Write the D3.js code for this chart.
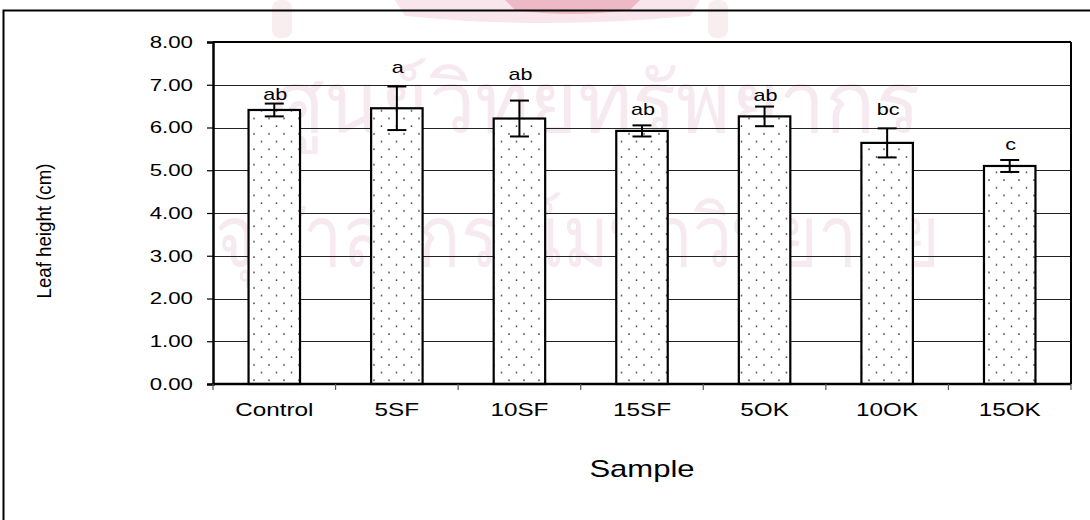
<!DOCTYPE html>
<html><head><meta charset="utf-8">
<script src="https://cdn.jsdelivr.net/npm/d3@7"></script>
<style>
body{margin:0;background:#fff}
svg text{font-family:"Liberation Sans",Arial,Helvetica,sans-serif;fill:#000}
</style></head>
<body><svg id="chart" width="1090" height="520"></svg>
<script>
const categories = ["Control","5SF","10SF","15SF","5OK","10OK","15OK"];
const means      = [6.41, 6.45, 6.21, 5.92, 6.26, 5.64, 5.10];
const errors     = [0.15, 0.51, 0.42, 0.13, 0.23, 0.34, 0.14];
const letters    = ["ab","a","ab","ab","ab","bc","c"];
const letterAt   = [6.64, 7.27, 7.11, 6.29, 6.63, 6.29, 5.47];
const yTicks     = [0,1,2,3,4,5,6,7,8];
const yTickLabels= ["0.00","1.00","2.00","3.00","4.00","5.00","6.00","7.00","8.00"];
const xTitle = "Sample";
const yTitle = "Leaf height (cm)";
const watermark = ["ศูนย์วิทยทรัพยากร","จุฬาลงกรณ์มหาวิทยาลัย"];

const SX = 1.35; // horizontal stretch of the original text
const svg = d3.select("#chart");
const L = 213, R = 1071, T = 42, B = 384;

const x = d3.scaleBand().domain(categories).range([L, R]).paddingInner(0.58).paddingOuter(0.29);
const y = d3.scaleLinear().domain([0, 8]).range([B, T]);

const defs = svg.append("defs");
const pat = defs.append("pattern").attr("id","dots").attr("patternUnits","userSpaceOnUse")
  .attr("width",15).attr("height",15.4).attr("x",L).attr("y",0);
pat.append("rect").attr("width",15).attr("height",15.4).attr("fill","#fff");
pat.append("circle").attr("cx",3.5).attr("cy",3).attr("r",0.9).attr("fill","#333");
pat.append("circle").attr("cx",11).attr("cy",10.7).attr("r",0.9).attr("fill","#333");

// faint logo remnant at top
const logo = svg.append("g");
logo.append("path").attr("d","M395,0 L700,0 L690,16 Q545,30 405,16 Z").attr("fill","#f8e6ec");
logo.append("path").attr("d","M505,0 L640,0 L630,10 Q570,18 515,10 Z").attr("fill","#eeb9c6");
logo.append("rect").attr("x",272).attr("y",0).attr("width",20).attr("height",38).attr("rx",8).attr("fill","#f8eef0");
logo.append("rect").attr("x",708).attr("y",0).attr("width",20).attr("height",38).attr("rx",8).attr("fill","#f8eef0");

// watermark
const wm = svg.append("g").style("font-family",'"Noto Sans Thai","Noto Sans","DejaVu Sans",sans-serif')
  .style("font-size","84px").style("opacity",0.85);
wm.append("text").attr("x",272).attr("y",132).attr("textLength",648).attr("lengthAdjust","spacingAndGlyphs")
  .style("fill","#f5e6ee").text(watermark[0]);
wm.append("text").attr("x",215).attr("y",266).attr("textLength",725).attr("lengthAdjust","spacingAndGlyphs")
  .style("fill","#f5e6ee").text(watermark[1]);

// outer frame
svg.append("rect").attr("x",3.5).attr("y",10.5).attr("width",1200).attr("height",700)
  .attr("fill","none").attr("stroke","#000").attr("stroke-width",2);

// gridlines
svg.append("g").selectAll("line").data(yTicks.filter(d => d > 0 && d < 8)).join("line")
  .attr("x1",L).attr("x2",R).attr("y1",d => Math.round(y(d))+0.5).attr("y2",d => Math.round(y(d))+0.5)
  .attr("stroke","#222").attr("stroke-width",1);

// plot border top/right
svg.append("line").attr("x1",L).attr("x2",R).attr("y1",T).attr("y2",T).attr("stroke","#000").attr("stroke-width",2);
svg.append("line").attr("x1",R).attr("x2",R).attr("y1",T).attr("y2",B).attr("stroke","#000").attr("stroke-width",2);

// bars
svg.append("g").selectAll("rect").data(categories).join("rect")
  .attr("x",d => x(d)).attr("y",(d,i) => y(means[i]))
  .attr("width",x.bandwidth()).attr("height",(d,i) => y(0) - y(means[i]))
  .attr("fill","url(#dots)").attr("stroke","#000").attr("stroke-width",2.2);

// error bars
const eb = svg.append("g").attr("stroke","#000").attr("stroke-width",2);
categories.forEach((c,i) => {
  const cx = x(c) + x.bandwidth()/2;
  const hi = y(means[i] + errors[i]), lo = y(means[i] - errors[i]);
  eb.append("line").attr("x1",cx).attr("x2",cx).attr("y1",hi).attr("y2",lo);
  eb.append("line").attr("x1",cx-9.5).attr("x2",cx+9.5).attr("y1",hi).attr("y2",hi);
  eb.append("line").attr("x1",cx-9.5).attr("x2",cx+9.5).attr("y1",lo).attr("y2",lo);
});

function sText(parent, px, py, str, size, anchor){
  return parent.append("g").attr("transform",`translate(${px},${py}) scale(${SX},1)`)
    .append("text").attr("text-anchor",anchor).style("font-size",size+"px").text(str);
}

// significance letters
const lg = svg.append("g");
categories.forEach((c,i) => sText(lg, x(c)+x.bandwidth()/2 + 1, y(letterAt[i]), letters[i], 16, "middle"));

// y axis
const yAxis = svg.append("g").attr("transform",`translate(${L},0)`)
  .call(d3.axisLeft(y).tickValues(yTicks).tickSize(6).tickPadding(14).tickFormat((d,i) => yTickLabels[i]));
yAxis.select(".domain").attr("stroke","#000").attr("stroke-width",2.5);
yAxis.selectAll(".tick line").attr("stroke","#000").attr("stroke-width",1.2);
yAxis.selectAll(".tick text").attr("x",-20/SX).attr("transform",`scale(${SX},1)`)
  .style("font-size","16.5px").attr("fill","#000");

// x axis (ticks at category boundaries)
const bounds = d3.range(categories.length + 1).map(i => L + i * x.step());
svg.append("line").attr("x1",L).attr("x2",R).attr("y1",B).attr("y2",B).attr("stroke","#000").attr("stroke-width",2.5);
svg.append("g").selectAll("line").data(bounds).join("line")
  .attr("x1",d => d).attr("x2",d => d).attr("y1",B).attr("y2",B+6)
  .attr("stroke","#555").attr("stroke-width",1.2);
const xl = svg.append("g");
categories.forEach(c => sText(xl, x(c)+x.bandwidth()/2, 416, c, 18, "middle"));

// titles
sText(svg, (L+R)/2, 477, xTitle, 23, "middle");
svg.append("g").attr("transform",`translate(51,231) scale(1.3,1) rotate(-90)`)
  .append("text").attr("text-anchor","middle").style("font-size","15px")
  .attr("textLength",135).attr("lengthAdjust","spacingAndGlyphs").text(yTitle);
</script></body></html>
